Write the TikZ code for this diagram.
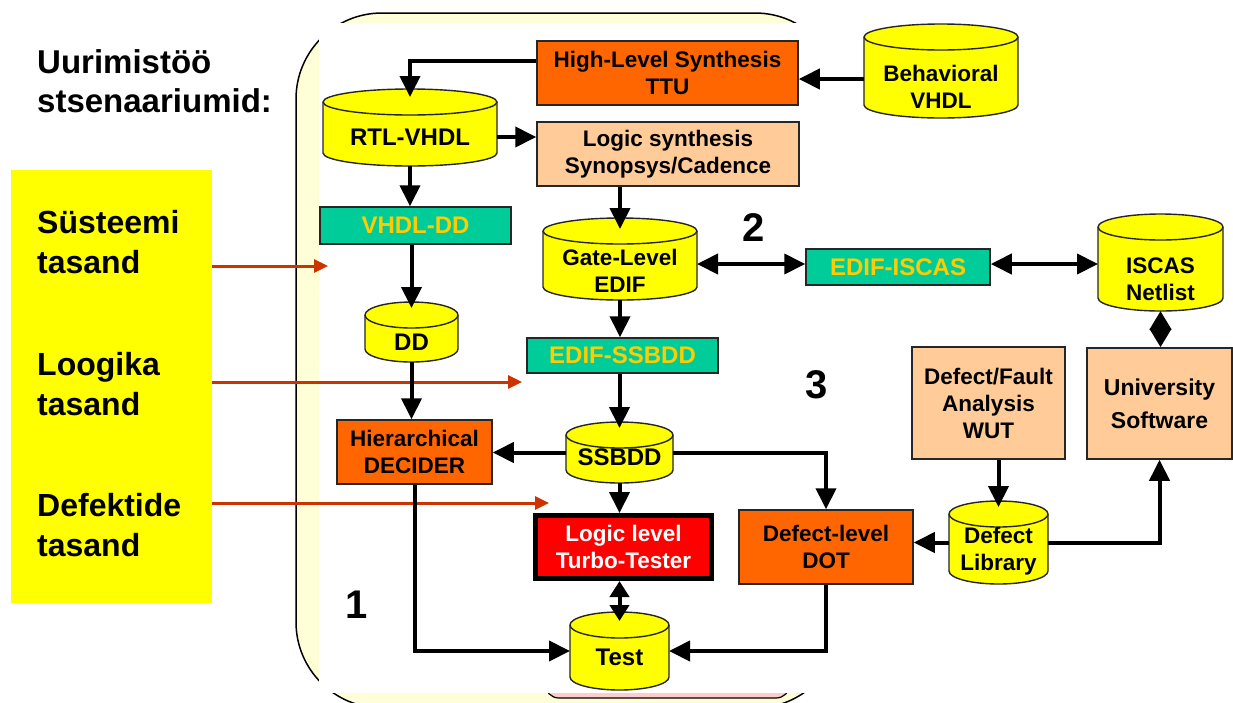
\documentclass[tikz,border=0pt]{standalone}
\usepackage{fontspec}
\setmainfont{Liberation Sans}
\usetikzlibrary{arrows.meta}

\definecolor{orangebox}{HTML}{FF6600}
\definecolor{peachbox}{HTML}{FFCC99}
\definecolor{tealbox}{HTML}{00CC99}
\definecolor{goldtxt}{HTML}{FFCC00}
\definecolor{dbyellow}{HTML}{FFFF00}
\definecolor{panelfill}{HTML}{FFFFD7}
\definecolor{pinkfill}{HTML}{FFCCCC}
\definecolor{ptrred}{HTML}{CC3300}

\newcommand\boxfont{\bfseries\fontsize{22.5}{27}\selectfont}
\newcommand\bigboxfont{\bfseries\fontsize{24}{28}\selectfont}
\newcommand\lvlfont{\bfseries\fontsize{32}{40}\selectfont}
\newcommand\numfont{\bfseries\fontsize{40}{44}\selectfont}

% database cylinder: name, left, right, top, bottom (px, y downwards)
\newcommand\dbcyl[5]{%
  \pgfmathsetmacro\cylcx{(#2+#3)/2}%
  \pgfmathsetmacro\cylcy{(#4+#5)/2}%
  \pgfmathsetmacro\cylw{#3-#2}%
  \pgfmathsetmacro\cylh{#5-#4}%
  \pgfmathsetmacro\cylk{0.5523*(#3-#2)/2}%
  \pgfmathsetmacro\cylta{#4+13}%
  \pgfmathsetmacro\cylba{#5-13}%
  \pgfmathsetmacro\cylkk{0.5523*13}%
  \draw[fill=dbyellow, draw=black!85, line width=1.4pt]
    (#2,\cylta) -- (#2,\cylba)
    .. controls (#2,\cylba+\cylkk) and (\cylcx-\cylk,#5) .. (\cylcx,#5)
    .. controls (\cylcx+\cylk,#5) and (#3,\cylba+\cylkk) .. (#3,\cylba)
    -- (#3,\cylta)
    .. controls (#3,\cylta-\cylkk) and (\cylcx+\cylk,#4) .. (\cylcx,#4)
    .. controls (\cylcx-\cylk,#4) and (#2,\cylta-\cylkk) .. (#2,\cylta) -- cycle;
  \draw[draw=black!85, line width=1.4pt]
    (#2,\cylta) .. controls (#2,\cylta+\cylkk) and (\cylcx-\cylk,\cylta+13) .. (\cylcx,\cylta+13)
    .. controls (\cylcx+\cylk,\cylta+13) and (#3,\cylta+\cylkk) .. (#3,\cylta);
  \node[rectangle, inner sep=0pt, outer sep=0pt, minimum width=\cylw pt,
        minimum height=\cylh pt] (#1) at (\cylcx,\cylcy) {};%
}

\tikzset{
  box/.style={rectangle, draw=black!85, line width=1.5pt, inner sep=0pt,
              align=center, font=\boxfont},
  dbtext/.style={inner sep=0pt, align=center, font=\boxfont},
  lvltext/.style={inner sep=0pt, anchor=base west, font=\lvlfont},
  conn/.style={line width=4pt, -{Triangle[length=21pt,width=20pt]}},
  dconn/.style={line width=4pt,
    {Triangle[length=21pt,width=20pt]}-{Triangle[length=21pt,width=20pt]}},
  shortdconn/.style={line width=4pt,
    {Triangle[length=16pt,width=19pt]}-{Triangle[length=16pt,width=19pt]}},
  diamondlink/.style={line width=4pt,
    {Triangle[length=18.5pt,width=21pt]}-{Triangle[length=18.5pt,width=21pt]}},
  ptr/.style={draw=ptrred, line width=3pt,
    -{Triangle[length=14pt,width=13pt]}},
}

\begin{document}
\begin{tikzpicture}[x=1pt, y=-1pt]
\useasboundingbox (0,0) rectangle (1233,702);
\clip (0,0) rectangle (1233,702);

% rounded background panel, partly hidden behind the white flow area
\draw[fill=panelfill, draw=black, line width=1.5pt, rounded corners=86pt]
  (296,13) rectangle (841,708);
\draw[fill=pinkfill, draw=black, line width=1.2pt, rounded corners=14pt]
  (545,600) rectangle (790,698);
\fill[white] (319,23) rectangle (1233,693);

% levels column
\node[fill=dbyellow, inner sep=0pt, minimum width=201pt, minimum height=433pt]
  (levels) at (111.5,386.5) {};
\node[lvltext, font=\bfseries\fontsize{33}{40}\selectfont] (title1) at (37,73) {Uurimistöö};
\node[lvltext, font=\bfseries\fontsize{33}{40}\selectfont] (title2) at (37,112) {stsenaariumid:};
\node[lvltext] (sys1) at (37,233) {Süsteemi};
\node[lvltext] (sys2) at (37,273) {tasand};
\node[lvltext] (log1) at (37,375) {Loogika};
\node[lvltext] (log2) at (37,415) {tasand};
\node[lvltext] (def1) at (37,516) {Defektide};
\node[lvltext] (def2) at (37,556) {tasand};

% scenario numbers
\node[inner sep=0pt, font=\numfont] (n1) at (357,605) {1};
\node[inner sep=0pt, font=\numfont] (n2) at (754,228) {2};
\node[inner sep=0pt, font=\numfont] (n3) at (817,385) {3};

% databases
\dbcyl{beh}{864}{1018}{24}{118}
\node[dbtext] (beh-t) at (941,86.5) {Behavioral\\VHDL};
\dbcyl{rtl}{323}{497}{89}{166}
\node[dbtext, font=\bigboxfont] (rtl-t) at (410,137) {RTL-VHDL};
\dbcyl{gate}{543}{697}{218}{300}
\node[dbtext] (gate-t) at (620,270.5) {Gate-Level\\EDIF};
\dbcyl{iscas}{1098}{1223}{214}{311}
\node[dbtext] (iscas-t) at (1160.5,279) {ISCAS\\Netlist};
\dbcyl{dd}{365}{458}{302}{362}
\node[dbtext, font=\bigboxfont] (dd-t) at (411.5,342) {DD};
\dbcyl{ssbdd}{566}{673}{422}{483}
\node[dbtext, font=\bigboxfont] (ssbdd-t) at (619.5,457) {SSBDD};
\dbcyl{deflib}{949}{1048}{501}{584}
\node[dbtext] (deflib-t) at (998.5,551) {Defect\\Library};
\dbcyl{test}{570}{669}{612}{690}
\node[dbtext, font=\bigboxfont] (test-t) at (619.5,657) {Test};

% tools and converters
\node[box, fill=orangebox, minimum width=261pt, minimum height=64pt] (hls) at (667.5,73)
  {High-Level Synthesis\\TTU};
\node[box, fill=peachbox, minimum width=262pt, minimum height=64pt] (ls) at (668,154)
  {Logic synthesis\\Synopsys/Cadence};
\node[box, fill=tealbox, text=goldtxt, font=\bigboxfont, minimum width=191pt,
  minimum height=37pt] (vhdldd) at (415.5,225.5) {VHDL-DD};
\node[box, fill=tealbox, text=goldtxt, font=\bigboxfont, minimum width=184pt,
  minimum height=36pt] (edifiscas) at (898,267) {EDIF-ISCAS};
\node[box, fill=tealbox, text=goldtxt, font=\bigboxfont, minimum width=191pt,
  minimum height=35pt] (edifssbdd) at (622.5,355.5) {EDIF-SSBDD};
\node[box, fill=orangebox, minimum width=155pt, minimum height=64pt] (decider) at (414.5,452)
  {Hierarchical\\DECIDER};
\node[box, fill=red, draw=black, line width=5pt, text=white, minimum width=176pt,
  minimum height=63pt] (logic) at (623.5,547) {Logic level\\Turbo-Tester};
\node[box, fill=orangebox, minimum width=174pt, minimum height=74pt] (dot) at (826,547)
  {Defect-level\\DOT};
\node[box, fill=peachbox, minimum width=153pt, minimum height=112pt] (dfa) at (988.5,403)
  {Defect/Fault\\Analysis\\WUT};
\node[box, fill=peachbox, font=\bfseries\fontsize{23}{33}\selectfont, minimum width=145pt,
  minimum height=111pt] (uni) at (1159.5,403.5) {University\\Software};

% level pointers
\coordinate (sysTip) at (328,266);
\coordinate (logTip) at (522,382);
\coordinate (defTip) at (549,503);
\draw[ptr] (levels.east |- sysTip) -- (sysTip);
\draw[ptr] (levels.east |- logTip) -- (logTip);
\draw[ptr] (levels.east |- defTip) -- (defTip);

% flow connectors
\draw[conn, shorten >=-8pt] ([yshift=12pt]hls.west) -| (rtl.north);
\draw[conn] ([yshift=-8pt]beh.west) -- ([yshift=-8pt]beh.west -| hls.east);
\draw[conn] ([yshift=-9.5pt]rtl.east) -- ([yshift=-9.5pt]rtl.east -| ls.west);
\draw[conn] (rtl.south) -- (rtl.south |- vhdldd.north);
\draw[conn, shorten >=-6pt] (dd.north |- vhdldd.south) -- (dd.north);
\draw[conn, shorten >=-11pt] (gate.north |- ls.south) -- (gate.north);
\draw[dconn] ([yshift=-5pt]gate.east) -- ([yshift=-5pt]gate.east -| edifiscas.west);
\draw[dconn] ([yshift=-5pt]gate.east -| edifiscas.east) -- ([yshift=-5pt]gate.east -| iscas.west);
\draw[diamondlink] (iscas.south) -- (iscas.south |- uni.north);
\draw[conn] (gate.south) -- (gate.south |- edifssbdd.north);
\draw[conn, shorten >=-6pt] (ssbdd.north |- edifssbdd.south) -- (ssbdd.north);
\draw[conn] (dd.south) -- (dd.south |- decider.north);
\draw[conn] (ssbdd.west) -- (ssbdd.west -| decider.east);
\draw[conn] (ssbdd.east) -| (dot.north);
\draw[conn] (ssbdd.south) -- (ssbdd.south |- logic.north);
\draw[shortdconn, shorten >=-9pt] (test.north |- logic.south) -- (test.north);
\draw[conn] (decider.south) |- (test.west);
\draw[conn] (dot.south) |- (test.east);
\draw[conn, shorten >=-6pt] (deflib.north |- dfa.south) -- (deflib.north);
\draw[conn] (deflib.west) -- (deflib.west -| dot.east);
\draw[conn] (deflib.east) -| (uni.south);
\end{tikzpicture}
\end{document}
